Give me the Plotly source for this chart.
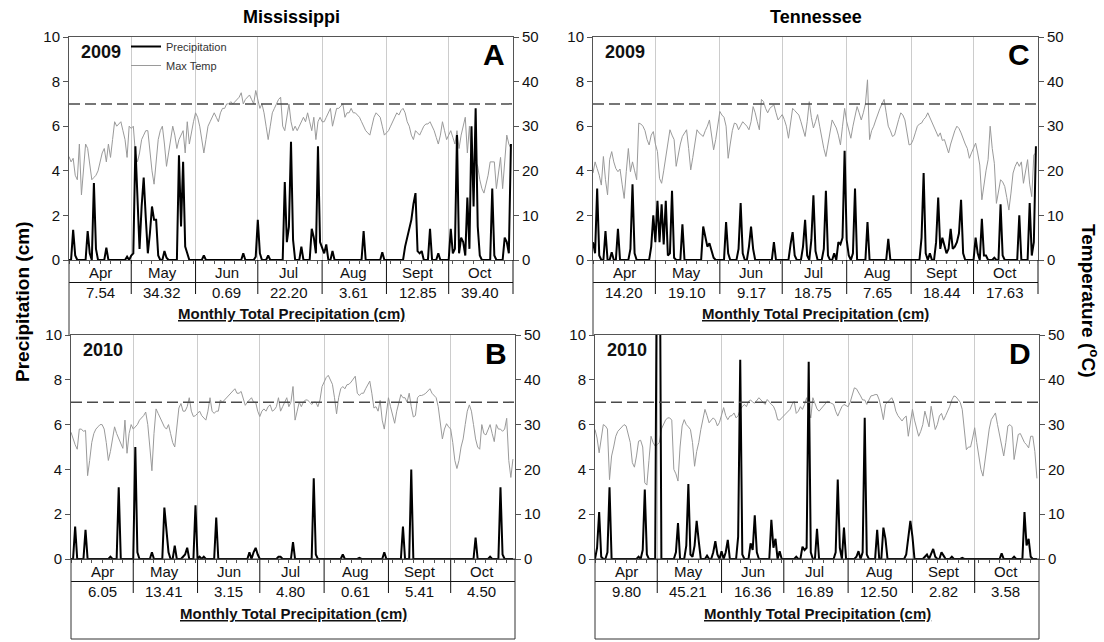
import pandas as pd
import plotly.graph_objects as go

FONT = "Liberation Sans, Arial, sans-serif"
W, H = 1104, 642

MONTHS = ["Apr", "May", "Jun", "Jul", "Aug", "Sept", "Oct"]
MONTH_STARTS = ["04-01", "05-01", "06-01", "07-01", "08-01", "09-01", "10-01", "11-01"]
MONTH_MIDS = ["04-16", "05-16", "06-16", "07-16", "08-16", "09-16", "10-16"]

# ---------------- daily precipitation (cm), one list per month ----------------
precip_ms_2009 = [
    [0, 0, 1.35, 0.2, 0, 0, 0, 0, 0, 1.3, 0.3, 0, 3.45, 0.5, 0, 0, 0, 0, 0.55, 0, 0, 0, 0, 0, 0, 0, 0, 0, 0.15, 0],
    [0.2, 0.3, 5.1, 2.8, 0.5, 2.4, 3.7, 1.9, 0.3, 1.2, 2.4, 1.8, 1.8, 0.2, 0, 0, 0.4, 0.1, 0, 0, 0, 0, 0, 4.7, 1.5, 4.4, 0.6, 0.3, 0, 0, 0],
    [0, 0, 0, 0, 0.2, 0, 0, 0, 0, 0, 0, 0, 0, 0, 0, 0, 0, 0, 0, 0, 0, 0, 0, 0.3, 0, 0, 0, 0, 0, 0.15],
    [1.8, 0.3, 0, 0, 0, 0.2, 0, 0, 0, 0, 0, 0, 0, 3.5, 0.8, 1.5, 5.3, 0.9, 0, 0, 0, 0.6, 0, 0, 0, 0, 1.4, 1.0, 0.3, 5.1, 0.8],
    [0.5, 0.3, 0.7, 0, 0, 0.4, 0, 0, 0, 0, 0, 0, 0, 0, 0, 0, 0, 0, 0, 0, 1.3, 0, 0, 0, 0, 0, 0, 0, 0, 0.35, 0],
    [0, 0, 0, 0, 0, 0, 0, 0, 0, 0.6, 1.0, 1.3, 1.8, 2.5, 3.0, 0.4, 0.3, 0.4, 0, 0, 0, 1.4, 0, 0, 0, 0.3, 0, 0, 0, 0],
    [0, 1.4, 0.3, 0.5, 5.6, 0.3, 1.0, 0.8, 0.2, 2.8, 0.5, 6.0, 2.4, 6.8, 1.5, 0.2, 0, 0, 0, 0, 0, 3.2, 0.2, 0, 0, 0, 0, 1.0, 0.8, 0.3, 5.2],
]
precip_ms_2010 = [
    [0, 0, 1.45, 0, 0, 0, 0, 1.3, 0, 0, 0, 0, 0, 0, 0, 0, 0, 0, 0, 0.1, 0, 0, 0, 3.2, 0, 0, 0, 0, 0, 0],
    [0, 5.0, 0.3, 0, 0, 0, 0, 0, 0, 0.3, 0, 0, 0, 0, 0, 2.3, 1.3, 0.3, 0, 0, 0.6, 0, 0, 0, 0.1, 0.2, 0.5, 0, 0, 0, 2.4],
    [0, 0.1, 0, 0.1, 0, 0, 0, 0, 0, 1.85, 0, 0, 0, 0, 0, 0, 0, 0, 0, 0, 0, 0, 0, 0, 0, 0.3, 0, 0.3, 0.5, 0.2],
    [0, 0, 0, 0, 0, 0, 0, 0, 0, 0.1, 0.1, 0, 0, 0, 0, 0, 0.75, 0, 0, 0, 0, 0, 0, 0, 0, 0, 3.6, 0.2, 0, 0, 0],
    [0, 0, 0, 0, 0, 0, 0, 0, 0, 0.2, 0, 0, 0, 0, 0, 0, 0, 0.05, 0, 0, 0, 0, 0, 0, 0, 0, 0, 0, 0, 0.3, 0],
    [0, 0, 0, 0, 0, 0, 0, 1.45, 0, 0, 0, 4.0, 0, 0, 0, 0, 0, 0, 0, 0, 0, 0, 0, 0, 0, 0, 0, 0, 0, 0],
    [0, 0, 0, 0, 0, 0, 0, 0, 0, 0, 0, 0, 0.95, 0, 0, 0, 0, 0, 0, 0.1, 0, 0, 0, 0, 3.2, 0.2, 0, 0, 0, 0, 0],
]
precip_tn_2009 = [
    [0.8, 0.3, 3.2, 0.2, 0, 0, 1.3, 0, 0, 0.35, 0, 0, 1.4, 0, 0, 0, 0, 0, 0.5, 3.4, 0.3, 0, 0, 0, 0, 0, 0, 0, 0.6, 2.0],
    [0.8, 2.65, 0.8, 2.5, 0.7, 2.65, 0.2, 0.3, 3.1, 0.1, 0, 0, 0, 1.6, 0, 0, 0, 0, 0, 0, 0, 0, 0, 1.5, 1.0, 0.6, 0.75, 0.4, 0.1, 0, 0],
    [0, 0, 0, 1.7, 0.3, 0, 0, 0, 0, 0.5, 2.55, 0.3, 0, 0, 0.6, 1.5, 0.5, 0, 0, 0, 0, 0, 0, 0, 0, 0, 0.8, 0, 0, 0],
    [0, 0, 0, 0, 0.7, 1.25, 0.2, 0, 0, 0, 0.6, 1.8, 0.2, 0, 0.9, 2.9, 0.4, 0, 0, 0, 0.5, 3.1, 0.2, 0, 0, 0.3, 0, 0.8, 0.7, 1.0, 4.9],
    [0.9, 0.2, 0, 0.3, 3.2, 0, 0, 0, 0, 0, 1.7, 0, 0, 0, 0, 0, 0, 0, 0, 0, 0.95, 0, 0, 0, 0, 0, 0, 0, 0, 0, 0],
    [0, 0, 0, 0, 0, 1.0, 3.9, 0.3, 0, 0.3, 0, 0, 0.8, 2.8, 0.5, 1.0, 0.6, 0.3, 0.5, 1.4, 0.5, 0.6, 0.8, 1.2, 2.7, 0.3, 0, 0, 0, 0],
    [0, 1.0, 0.3, 0, 1.85, 0.2, 0.2, 0, 0, 0, 0.1, 0, 0, 2.5, 0.2, 0, 0, 0, 0, 0, 0, 0, 2.0, 0, 0, 0, 0, 2.55, 0.2, 0.8, 5.1],
]
precip_tn_2010 = [
    [0, 0.5, 2.1, 0.1, 0, 0, 0.3, 3.2, 0, 0, 0, 0, 0, 0, 0, 0, 0, 0, 0, 0, 0, 0.1, 0, 0.4, 3.1, 0.2, 0, 0, 0, 0],
    [17.0, 19.0, 0, 0, 0, 0, 0, 0, 0, 0.3, 1.6, 0, 0, 0, 0.6, 3.35, 0.2, 0.1, 0.6, 1.7, 0.8, 0, 0, 0, 0.15, 0, 0, 0.3, 0.8, 0.2, 0],
    [0.35, 0, 0.3, 0.85, 0, 0, 0, 0, 1.0, 8.9, 0.2, 0, 0, 0, 0.7, 0.4, 1.95, 0.3, 0, 0, 0, 0, 0, 0, 1.75, 0.5, 0.9, 0, 0.35, 0],
    [0, 0, 0, 0, 0, 0, 0.1, 0, 0, 0.55, 0.4, 0.5, 8.8, 0.3, 0, 0, 1.35, 0, 0, 0, 0, 0, 0, 0, 0, 0.3, 3.55, 0.5, 0, 1.4, 0],
    [0, 0, 0, 0, 0.1, 0.35, 0, 0.3, 6.3, 0.2, 0, 0, 0, 0, 1.3, 0, 0, 1.4, 0.9, 0, 0, 0, 0, 0, 0, 0, 0, 0, 0.2, 1.1, 1.7],
    [1.0, 0, 0, 0, 0, 0, 0.1, 0.2, 0, 0.2, 0.45, 0.1, 0, 0, 0.3, 0.15, 0, 0, 0, 0.1, 0, 0, 0, 0, 0.05, 0, 0, 0, 0, 0],
    [0, 0, 0, 0, 0, 0, 0, 0, 0, 0, 0, 0, 0, 0.25, 0, 0, 0, 0, 0, 0.1, 0, 0, 0, 0, 2.1, 0.6, 0.9, 0.1, 0, 0, 0],
]

# ---------------- daily maximum temperature (deg C), one list per month ----------------
temp_ms_2009 = [
    [23.2, 22, 22.8, 19, 18, 26, 14.6, 20, 26, 25, 21, 18, 18.5, 19, 20, 22, 24, 25, 22, 26, 23, 27, 31, 30, 30.5, 31, 29, 27, 23, 30],
    [29.5, 30, 24, 22, 24, 27, 28, 29, 29, 24, 20, 17, 23, 27, 29, 30, 26, 21, 24, 27, 30, 28, 25, 27, 28, 29, 24, 31, 26, 29, 31],
    [33, 32, 30, 27, 24, 27, 30, 31, 32, 33, 32, 31, 33, 34, 34, 35, 35, 35.5, 35, 35.5, 36, 36.5, 37.5, 35, 36, 36.5, 37, 36, 35, 38],
    [36, 34, 35, 33, 30, 27, 30, 33, 34, 35, 36, 36.5, 30, 29, 32, 35, 31, 29, 30, 29, 30, 31, 32, 31, 33, 31, 29, 32, 27, 31, 32],
    [31, 31, 32, 33, 34, 30, 32, 34, 34, 34.5, 35, 32, 33, 33, 34, 33, 33, 32.5, 32, 31, 30, 29, 28.5, 28, 30, 32, 33, 32.5, 32, 30, 28],
    [28.5, 29, 30, 31, 32, 33, 32.5, 33.5, 34, 33, 31, 30, 28, 27, 29, 28.5, 28, 29, 30, 30.5, 30.5, 31, 30, 29, 27.5, 26, 28, 31, 29, 27],
    [28, 29, 27.5, 26, 29, 25, 28, 30, 32, 24, 30, 22, 20, 22, 21, 18, 16, 15, 17, 19, 22, 22, 22, 16, 19, 23, 16, 22, 28, 26, 25],
]
temp_ms_2010 = [
    [28.3, 26.8, 25.5, 24.5, 29, 29, 28.5, 28.7, 18.6, 22, 26, 28, 29, 29.5, 30, 30, 29, 26, 22, 24, 27, 29.5, 28, 27, 26, 24.7, 31, 23.6, 28, 30],
    [29, 29.5, 30, 31, 31.5, 32, 32.8, 30, 25, 19.7, 28, 33.5, 32.5, 31.4, 30.5, 29.5, 29, 30, 28, 26, 25, 30, 33.7, 34.7, 33, 33, 34, 36, 33, 31.8, 32],
    [32.5, 33, 32, 31.5, 31, 33, 36, 33, 32.5, 33, 33, 35.5, 35, 35.5, 36, 36.5, 37, 37.4, 38, 37, 37, 37.4, 36, 34.3, 35, 35.5, 36, 35, 35, 33],
    [31.8, 33, 33.5, 33, 34, 34.4, 33, 33.3, 34, 36, 33, 34, 35, 36, 34, 35, 38.5, 31, 33, 35, 34, 35, 35.5, 35.5, 35, 34.5, 35, 35, 34, 35.5, 38.5],
    [39.5, 40.5, 41, 40, 39, 36, 32.4, 36, 38, 38.5, 38, 38.9, 39, 39.5, 40.2, 40.8, 37, 36.5, 37, 37, 38, 39, 39.7, 37, 33.7, 34, 33, 35.4, 31, 29, 33],
    [36, 34, 32, 30.3, 33, 35, 36.7, 36, 36, 35, 37, 34, 31.7, 32, 36, 36.5, 36.5, 36.7, 37, 37.5, 38, 37, 36.5, 36, 34, 30, 26.8, 29, 30.2, 29.5],
    [29, 26, 22, 20.2, 22, 25, 26.8, 30, 33, 34.4, 33, 30, 26.8, 25, 24.5, 30, 28, 27.7, 29, 30, 28, 26.2, 30, 29, 29, 28.5, 29, 31.4, 22, 18.2, 22.3],
]
temp_tn_2009 = [
    [19.5, 22, 20.5, 19, 16.8, 23.2, 18, 14.6, 22.5, 24.3, 22, 20.5, 19.8, 20.4, 17, 13.8, 19.8, 25, 19.8, 22, 20, 18, 30.7, 30.5, 30, 29, 27, 25.8, 28, 28.8],
    [26, 24.3, 18.3, 17.2, 20, 23.2, 26, 29.2, 28, 27, 21, 24, 26, 27.7, 28.5, 29.2, 25, 20.2, 23, 26, 29.2, 28.5, 28, 27.7, 29, 30, 31.4, 28, 24.7, 27, 30],
    [33.3, 32.5, 32, 30, 22.8, 26, 29, 30.7, 30.5, 29.2, 30, 31, 30.5, 30, 29.2, 31, 34.4, 33, 31, 29.2, 36, 35.5, 34, 33, 34, 34.5, 34.8, 33, 31.4, 32],
    [32.6, 31.5, 30, 27.3, 31, 34, 33.5, 33, 32.5, 31, 29, 27.7, 31, 35.5, 32, 29.6, 31, 32.6, 30, 27.3, 25, 23.2, 26, 29, 31.4, 30.5, 29.6, 28, 25.8, 30, 34],
    [31, 29, 27.3, 30, 32, 34.4, 33, 31.4, 33, 35, 40.4, 27, 29, 30, 31.4, 33, 34, 35, 36, 33, 30, 29, 27.7, 28, 30, 31.5, 33, 32.5, 31.4, 29, 25.8],
    [26, 27, 28.5, 30, 30.5, 30.7, 31.5, 32, 33, 32, 31, 30, 29, 27.7, 28.5, 26.8, 27, 25.5, 24, 26, 27.7, 29, 30, 29.5, 28.5, 27, 26, 25, 22.8, 24],
    [25, 26.2, 24, 21.3, 13.5, 17, 20, 22.5, 30, 25, 21.7, 12.7, 15, 18, 17.5, 16.5, 14, 11.2, 15, 19.5, 21, 22, 21, 22, 17.2, 20, 22.5, 17, 14.2, 23.6, 24],
]
temp_tn_2010 = [
    [28.9, 27, 23.7, 27, 30, 29.7, 29, 17.7, 23, 25, 27.4, 28.5, 29, 29.7, 30, 29.7, 28, 26, 21.5, 20.5, 23, 26.3, 26.5, 25, 17, 16.5, 22, 27.4, 26, 25.2],
    [25.5, 26, 29, 30, 31, 31.5, 31.5, 31, 20, 19, 17.4, 25, 29.7, 31.1, 30, 29.5, 28.9, 26, 20.7, 24, 26, 28.9, 31, 33.4, 32, 30.4, 31, 31.5, 31, 29.7, 30.5],
    [32.5, 33.8, 32, 31.1, 31.9, 32, 32.6, 31.5, 32, 33.4, 34, 34.5, 34, 35.2, 35.5, 35, 34.8, 35.5, 36, 35.5, 35, 34.5, 35.6, 35, 34.5, 34.1, 33, 31.1, 31, 31.5],
    [32, 32.5, 33, 33.4, 34.5, 35.2, 32.5, 33, 34, 33.4, 34.5, 36, 33, 31.5, 36, 34.5, 33.5, 33, 33.5, 34, 34.5, 35.2, 35, 34.8, 34.5, 33, 31.9, 33, 34, 34.5, 34.2],
    [34, 35, 36.5, 38.2, 38, 37, 36.4, 35.5, 35.5, 34.5, 35.5, 36.4, 36.5, 36.7, 36.7, 35.5, 33.5, 31.1, 34.5, 35, 35.5, 36, 35, 33, 32, 31.5, 30.8, 31.5, 31.9, 27.4, 30],
    [33.4, 31, 29, 27.4, 28.5, 30, 33, 31, 29.5, 34.1, 31, 28.9, 30, 31.9, 32.5, 31, 32, 33, 34.1, 35.5, 36.4, 36.2, 35.5, 35, 33.4, 29, 24.4, 25, 25, 27],
    [29.3, 26, 23.3, 20, 18.5, 22, 26.7, 29, 31.1, 32, 32.6, 30, 27.4, 25, 23, 26, 29.7, 30, 29.5, 22.2, 25, 27.8, 28, 27, 26, 25.5, 24.8, 27.4, 27.4, 24, 18],
]

# ---------------- monthly total precipitation (cm) ----------------
totals_ms_2009 = ["7.54", "34.32", "0.69", "22.20", "3.61", "12.85", "39.40"]
totals_ms_2010 = ["6.05", "13.41", "3.15", "4.80", "0.61", "5.41", "4.50"]
totals_tn_2009 = ["14.20", "19.10", "9.17", "18.75", "7.65", "18.44", "17.63"]
totals_tn_2010 = ["9.80", "45.21", "16.36", "16.89", "12.50", "2.82", "3.58"]

HEAT_THRESHOLD = 35  # deg C


def flat(months):
    out = []
    for m in months:
        out.extend(m)
    return out


def px(x):
    return x / W


def py(y):
    return 1 - y / H


# letter, year, precip, temp, totals, pixel box (left, right, top, bottom), top-row?
panels = [
    ("A", 2009, precip_ms_2009, temp_ms_2009, totals_ms_2009, (69, 513, 37, 260), True),
    ("B", 2010, precip_ms_2010, temp_ms_2010, totals_ms_2010, (71, 515, 335, 559), False),
    ("C", 2009, precip_tn_2009, temp_tn_2009, totals_tn_2009, (593, 1038, 37, 260), True),
    ("D", 2010, precip_tn_2010, temp_tn_2010, totals_tn_2010, (595, 1039, 335, 559), False),
]

fig = go.Figure()
layout = {}
shapes = []
annotations = []
AXC = "#555555"
tickfont = dict(family=FONT, size=15, color="#111111")

for i, (letter, year, precip_m, temp_m, totals, (x0, x1, y0, y1), top_row) in enumerate(panels):
    n = i + 1
    precip = flat(precip_m)
    temp = flat(temp_m)
    dates = pd.date_range(f"{year}-04-01", f"{year}-10-31", freq="D")
    assert len(precip) == len(dates) and len(temp) == len(dates), (letter, len(precip), len(temp))

    xid = "x" if n == 1 else f"x{n}"
    xkey = "xaxis" if n == 1 else f"xaxis{n}"
    k_t = 2 * n - 1
    k_p = 2 * n
    yt = "y" if k_t == 1 else f"y{k_t}"
    yp = f"y{k_p}"
    yt_key = "yaxis" if k_t == 1 else f"yaxis{k_t}"
    yp_key = f"yaxis{k_p}"

    fig.add_trace(go.Scatter(
        x=dates, y=temp, xaxis=xid, yaxis=yt, mode="lines",
        line=dict(color="#9a9a9a", width=1), name="Max Temp",
        showlegend=(n == 1), legendrank=2,
    ))
    fig.add_trace(go.Scatter(
        x=dates, y=precip, xaxis=xid, yaxis=yp, mode="lines",
        line=dict(color="#000000", width=2), name="Precipitation",
        showlegend=(n == 1), legendrank=1,
    ))

    month_starts = [f"{year}-{m}" for m in MONTH_STARTS]
    layout[xkey] = dict(
        domain=[px(x0), px(x1)], anchor=yt, type="date", automargin=False,
        range=[month_starts[0], month_starts[-1]],
        tickmode="array", tickvals=month_starts[1:-1], ticks="",
        showticklabels=False, showgrid=True, gridcolor="#cccccc", gridwidth=1,
        showline=True, linecolor=AXC, linewidth=1, mirror=True, zeroline=False,
        minor=dict(ticks="outside", ticklen=3, tickcolor=AXC, tickwidth=1,
                   tick0=month_starts[0], dtick=5 * 86400000, showgrid=False),
    )
    layout[yt_key] = dict(
        domain=[py(y1), py(y0)], anchor=xid, side="right", automargin=False,
        range=[0, 50], tick0=0, dtick=10, ticks="outside", ticklen=5,
        tickcolor=AXC, showline=True, linecolor=AXC, linewidth=1,
        showgrid=False, zeroline=False, tickfont=tickfont,
    )
    layout[yp_key] = dict(
        overlaying=yt, anchor=xid, side="left", automargin=False,
        range=[0, 10], tick0=0, dtick=2, ticks="outside", ticklen=5,
        tickcolor=AXC, showline=True, linecolor=AXC, linewidth=1,
        showgrid=False, zeroline=False, tickfont=tickfont,
    )

    # 35 C reference line
    shapes.append(dict(
        type="line", xref=xid, yref=yt, x0=month_starts[0], x1=month_starts[-1],
        y0=HEAT_THRESHOLD, y1=HEAT_THRESHOLD,
        line=dict(color="#4a4a4a", width=1.5, dash="11px,5px"),
    ))

    # ---- monthly totals table ----
    for ms in month_starts[1:-1]:
        shapes.append(dict(type="line", xref=xid, yref="paper", x0=ms, x1=ms,
                           y0=py(y1), y1=py(y1 + 34), line=dict(color="#111", width=1)))
    shapes.append(dict(type="line", xref="paper", yref="paper", x0=px(x0), x1=px(x1),
                       y0=py(y1 + 22.5), y1=py(y1 + 22.5), line=dict(color="#111", width=1)))
    if top_row:
        shapes.append(dict(type="line", xref="paper", yref="paper", x0=px(x0), x1=px(x0),
                           y0=py(y1), y1=py(335), line=dict(color="#333", width=1)))
        shapes.append(dict(type="line", xref="paper", yref="paper", x0=px(x1), x1=px(x1),
                           y0=py(y1), y1=py(y1 + 34), line=dict(color="#111", width=1)))
    else:
        shapes.append(dict(type="rect", xref="paper", yref="paper", x0=px(x0), x1=px(x1),
                           y0=py(639), y1=py(y1), line=dict(color="#333", width=1)))

    for mname, mid, tot in zip(MONTHS, MONTH_MIDS, totals):
        annotations.append(dict(text=mname, xref=xid, yref="paper", x=f"{year}-{mid}",
                                y=py(y1 + 12.5), showarrow=False, xanchor="center", yanchor="middle",
                                font=dict(family=FONT, size=15, color="#111")))
        annotations.append(dict(text=tot, xref=xid, yref="paper", x=f"{year}-{mid}",
                                y=py(y1 + 32.5), showarrow=False, xanchor="center", yanchor="middle",
                                font=dict(family=FONT, size=15, color="#111")))
    annotations.append(dict(text="<b><u>Monthly Total Precipitation (cm)</u></b>", xref="paper", yref="paper",
                            x=px((x0 + x1) / 2), y=py(y1 + 54), showarrow=False,
                            xanchor="center", yanchor="middle",
                            font=dict(family=FONT, size=15, color="#111")))

    # year label and panel letter
    annotations.append(dict(text=f"<b>{year}</b>", xref="paper", yref="paper",
                            x=px(x0 + 10), y=py(y0 + 15), showarrow=False,
                            xanchor="left", yanchor="middle",
                            font=dict(family=FONT, size=18, color="#111")))
    annotations.append(dict(text=f"<b>{letter}</b>", xref="paper", yref="paper",
                            x=px(x1 - 6), y=py(y0 + 18), showarrow=False,
                            xanchor="right", yanchor="middle",
                            font=dict(family=FONT, size=30, color="#000")))

# column titles and axis titles
annotations += [
    dict(text="<b>Mississippi</b>", xref="paper", yref="paper", x=px(291), y=py(17),
         showarrow=False, xanchor="center", yanchor="middle",
         font=dict(family=FONT, size=18, color="#000")),
    dict(text="<b>Tennessee</b>", xref="paper", yref="paper", x=px(816), y=py(17),
         showarrow=False, xanchor="center", yanchor="middle",
         font=dict(family=FONT, size=18, color="#000")),
    dict(text="<b>Precipitation (cm)</b>", xref="paper", yref="paper", x=px(23), y=py(302),
         showarrow=False, textangle=-90, xanchor="center", yanchor="middle",
         font=dict(family=FONT, size=19, color="#000")),
    dict(text="<b>Temperature (<sup>o</sup>C)</b>", xref="paper", yref="paper", x=px(1090), y=py(300),
         showarrow=False, textangle=90, xanchor="center", yanchor="middle",
         font=dict(family=FONT, size=19, color="#000")),
]

fig.update_layout(
    width=W, height=H,
    margin=dict(l=0, r=0, t=0, b=0, autoexpand=False),
    paper_bgcolor="white", plot_bgcolor="white",
    font=dict(family=FONT, color="#111"),
    shapes=shapes, annotations=annotations,
    legend=dict(x=px(126), y=py(32), xanchor="left", yanchor="top",
                bgcolor="rgba(0,0,0,0)", font=dict(family=FONT, size=11, color="#333"),
                itemwidth=30, tracegroupgap=0),
    **layout,
)

fig.write_html("out.html")
